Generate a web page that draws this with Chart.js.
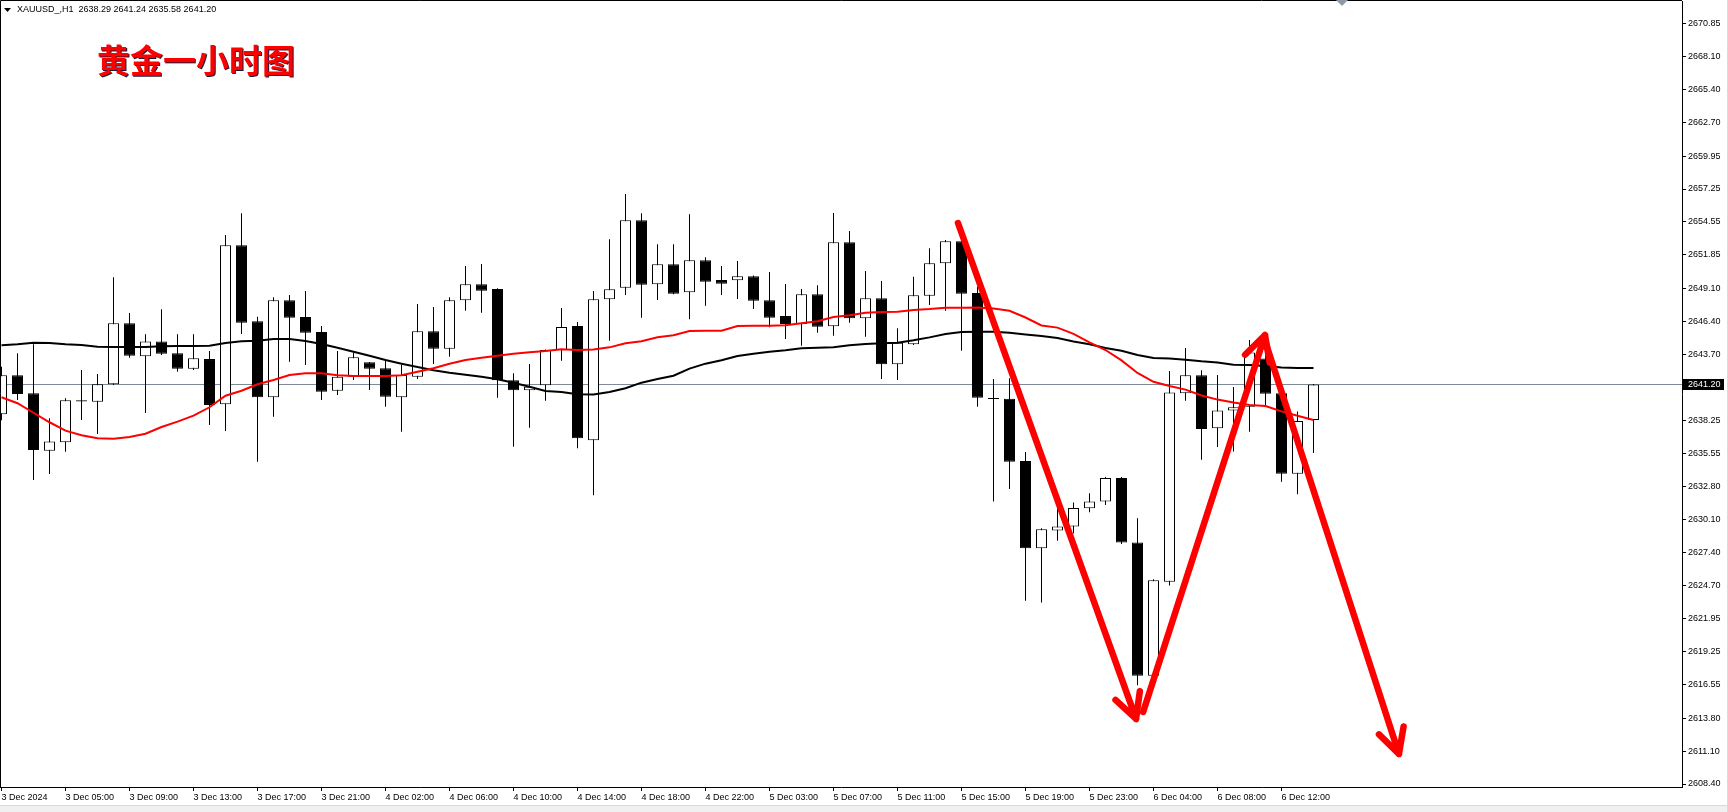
<!DOCTYPE html>
<html>
<head>
<meta charset="utf-8">
<script src="https://cdn.jsdelivr.net/npm/chart.js@4"></script>
<style>
  html, body { margin: 0; padding: 0; background: #fff; }
  canvas { display: block; }
</style>
</head>
<body>
<canvas id="chart" width="1728" height="812"></canvas>
<script>
'use strict'

const symbol = 'XAUUSD_,H1'
const title = '黄金一小时图'

// hourly bars, oldest first
const open = [
  2638.75, 2641.96, 2640.48, 2635.77, 2636.45, 2639.90, 2639.79, 2641.21, 2646.22, 2643.51,
  2644.74, 2643.76, 2642.50, 2643.29, 2639.57, 2652.63, 2646.39, 2640.15, 2648.11, 2646.74,
  2645.51, 2640.69, 2641.84, 2643.02, 2642.53, 2640.15, 2641.84, 2645.57, 2644.14, 2648.11,
  2649.43, 2649.04, 2641.54, 2640.72, 2641.13, 2644.03, 2646.00, 2636.62, 2648.19, 2649.15,
  2654.68, 2649.43, 2651.07, 2648.77, 2651.40, 2649.78, 2649.75, 2650.08, 2648.11, 2646.82,
  2646.17, 2648.60, 2645.98, 2652.87, 2646.63, 2648.28, 2642.86, 2644.50, 2648.49, 2651.15,
  2652.96, 2648.71, 2640.10, 2640.02, 2634.91, 2627.76, 2629.22, 2629.55, 2631.04, 2631.60,
  2633.53, 2628.23, 2617.29, 2625.00, 2640.49, 2641.95, 2637.61, 2639.07, 2639.37, 2643.33,
  2640.49, 2633.88, 2638.29
]
const high = [
  2642.66, 2643.76, 2644.50, 2638.42, 2640.07, 2642.39, 2642.06, 2650.00, 2647.07, 2645.32,
  2647.37, 2645.32, 2645.32, 2643.95, 2653.47, 2655.25, 2646.77, 2648.36, 2648.55, 2648.88,
  2646.00, 2643.95, 2643.81, 2643.05, 2643.21, 2642.80, 2647.81, 2647.56, 2648.36, 2650.93,
  2651.09, 2649.10, 2642.12, 2642.88, 2644.08, 2647.48, 2646.33, 2648.88, 2653.12, 2656.84,
  2655.25, 2652.71, 2652.71, 2655.17, 2651.64, 2650.93, 2651.34, 2650.15, 2650.44, 2649.45,
  2649.04, 2649.34, 2655.28, 2653.80, 2650.52, 2649.70, 2645.81, 2650.05, 2652.38, 2653.06,
  2653.05, 2649.23, 2641.65, 2641.72, 2635.65, 2629.40, 2631.16, 2631.51, 2632.28, 2633.60,
  2633.60, 2630.22, 2625.21, 2642.30, 2644.20, 2642.36, 2641.98, 2640.99, 2644.85, 2645.23,
  2640.55, 2638.99, 2641.24
]
const low = [
  2638.26, 2639.93, 2633.36, 2633.85, 2635.68, 2638.29, 2637.14, 2641.15, 2643.40, 2638.86,
  2643.62, 2642.25, 2642.39, 2637.87, 2637.38, 2645.35, 2634.86, 2638.56, 2643.07, 2642.80,
  2639.93, 2640.34, 2641.57, 2640.75, 2639.38, 2637.33, 2641.65, 2642.88, 2643.48, 2647.26,
  2647.10, 2640.12, 2636.09, 2637.65, 2639.87, 2643.15, 2635.96, 2632.10, 2644.80, 2648.55,
  2646.69, 2648.14, 2648.60, 2646.55, 2647.67, 2648.55, 2648.22, 2647.40, 2645.89, 2644.94,
  2644.39, 2645.45, 2645.21, 2646.27, 2645.12, 2641.65, 2641.57, 2644.45, 2647.73, 2647.26,
  2643.97, 2639.38, 2631.60, 2632.63, 2623.45, 2623.30, 2628.38, 2628.96, 2630.72, 2631.31,
  2628.10, 2616.50, 2616.64, 2624.70, 2639.87, 2635.03, 2636.06, 2635.70, 2637.32, 2639.52,
  2633.21, 2632.19, 2635.58
]
const close = [
  2641.96, 2640.42, 2635.82, 2636.53, 2639.90, 2639.80, 2641.21, 2646.22, 2643.57, 2644.74,
  2643.73, 2642.50, 2643.35, 2639.52, 2652.63, 2646.27, 2640.15, 2648.11, 2646.69, 2645.45,
  2640.61, 2641.84, 2643.43, 2642.50, 2640.20, 2641.98, 2645.57, 2644.14, 2648.11, 2649.43,
  2648.90, 2641.54, 2640.72, 2641.02, 2644.03, 2645.92, 2636.78, 2648.19, 2649.01, 2654.68,
  2649.39, 2651.07, 2648.66, 2651.40, 2649.64, 2649.48, 2650.08, 2648.08, 2646.69, 2646.17,
  2648.60, 2645.95, 2652.87, 2646.63, 2648.28, 2642.86, 2644.63, 2648.52, 2651.15, 2652.96,
  2648.66, 2640.12, 2640.00, 2634.85, 2627.76, 2629.31, 2629.55, 2631.07, 2631.60, 2633.53,
  2628.23, 2617.29, 2625.12, 2640.54, 2641.95, 2637.55, 2639.07, 2639.34, 2643.83, 2640.45,
  2633.88, 2638.20, 2641.20
]

// moving averages, one value per bar
const maFast = [
  2640.15, 2639.66, 2638.88, 2638.10, 2637.41, 2637.03, 2636.78, 2636.75, 2636.89, 2637.16,
  2637.71, 2638.15, 2638.64, 2639.33, 2640.28, 2640.69, 2641.22, 2641.57, 2641.98, 2642.12,
  2642.12, 2641.96, 2641.90, 2641.90, 2641.90, 2641.96, 2642.25, 2642.53, 2642.91, 2643.21,
  2643.40, 2643.56, 2643.73, 2643.84, 2643.95, 2644.09, 2644.03, 2644.07, 2644.25, 2644.58,
  2644.75, 2645.07, 2645.24, 2645.59, 2645.62, 2645.62, 2646.00, 2646.03, 2646.03, 2646.06,
  2646.22, 2646.39, 2646.74, 2646.88, 2647.09, 2647.15, 2647.18, 2647.32, 2647.40, 2647.51,
  2647.51, 2647.52, 2647.43, 2647.25, 2646.70, 2646.05, 2645.87, 2645.36, 2644.65, 2644.03,
  2643.18, 2642.15, 2641.42, 2641.07, 2640.78, 2640.30, 2639.96, 2639.72, 2639.52, 2639.43,
  2638.99, 2638.64, 2638.29
]
const maSlow = [
  2644.42, 2644.50, 2644.63, 2644.61, 2644.50, 2644.44, 2644.30, 2644.28, 2644.28, 2644.28,
  2644.34, 2644.36, 2644.36, 2644.39, 2644.61, 2644.75, 2644.80, 2644.94, 2644.94, 2644.77,
  2644.52, 2644.22, 2643.89, 2643.56, 2643.21, 2642.91, 2642.64, 2642.37, 2642.17, 2642.00,
  2641.84, 2641.63, 2641.35, 2641.02, 2640.67, 2640.58, 2640.40, 2640.38, 2640.58, 2640.89,
  2641.35, 2641.65, 2641.92, 2642.50, 2642.91, 2643.19, 2643.54, 2643.73, 2643.89, 2644.01,
  2644.17, 2644.22, 2644.25, 2644.42, 2644.52, 2644.58, 2644.63, 2644.83, 2645.07, 2645.35,
  2645.51, 2645.53, 2645.53, 2645.44, 2645.30, 2645.18, 2645.02, 2644.73, 2644.50, 2644.20,
  2643.97, 2643.62, 2643.38, 2643.33, 2643.24, 2643.10, 2643.01, 2642.83, 2642.80, 2642.72,
  2642.60, 2642.56, 2642.56
]

const timeLabels = [
  '3 Dec 2024', '3 Dec 05:00', '3 Dec 09:00', '3 Dec 13:00', '3 Dec 17:00', '3 Dec 21:00',
  '4 Dec 02:00', '4 Dec 06:00', '4 Dec 10:00', '4 Dec 14:00', '4 Dec 18:00', '4 Dec 22:00',
  '5 Dec 03:00', '5 Dec 07:00', '5 Dec 11:00', '5 Dec 15:00', '5 Dec 19:00', '5 Dec 23:00',
  '6 Dec 04:00', '6 Dec 08:00', '6 Dec 12:00'
]
const timeLabelBars = [0, 4, 8, 12, 16, 20, 24, 28, 32, 36, 40, 44, 48, 52, 56, 60, 64, 68, 72, 76, 80]

const priceTicks = [
  2608.40, 2611.10, 2613.80, 2616.55, 2619.25, 2621.95, 2624.70, 2627.40, 2630.10, 2632.80,
  2635.55, 2638.25, 2643.70, 2646.40, 2649.10, 2651.85, 2654.55, 2657.25, 2659.95, 2662.70,
  2665.40, 2668.10, 2670.85
]

// hand drawn zigzag, [bar, price]
const arrowFrom = [[59.78, 2654.46], [71.35, 2614.31], [78.97, 2644.80]]
const arrowTo = [[70.91, 2613.74], [78.97, 2645.26], [87.34, 2610.86]]

const bars = open.map((_, i) => i)
const lastBar = bars.length - 1
const lastPrice = close[lastBar]
const labelAt = Object.fromEntries(timeLabelBars.map((b, k) => [b, timeLabels[k]]))

const font = '"Liberation Sans", Arial, sans-serif'
Chart.defaults.font.family = font
Chart.defaults.font.size = 9
Chart.defaults.color = '#000'

const decor = {
  id: 'decor',

  beforeDraw(chart) {
    const { ctx, width, height } = chart
    ctx.save()
    ctx.fillStyle = '#fff'
    ctx.fillRect(0, 0, width, height)
    ctx.restore()
  },

  beforeDatasetsDraw(chart) {
    const { ctx, chartArea } = chart
    const y = Math.round(chart.scales.y.getPixelForValue(lastPrice)) + 0.5

    ctx.save()
    ctx.strokeStyle = '#7f8a98'
    ctx.lineWidth = 1
    ctx.beginPath()
    ctx.moveTo(chartArea.left, y)
    ctx.lineTo(chartArea.right, y)
    ctx.stroke()
    ctx.restore()
  },

  afterDatasetsDraw(chart) {
    const { ctx } = chart
    const { x: xs, y: ys } = chart.scales
    const at = ([b, p]) => [xs.getPixelForValue(b), ys.getPixelForValue(p)]

    ctx.save()
    ctx.strokeStyle = '#ff0000'
    ctx.lineWidth = 6.5
    ctx.lineCap = 'round'
    ctx.lineJoin = 'round'

    arrowFrom.forEach((from, k) => {
      const [x1, y1] = at(from)
      const [x2, y2] = at(arrowTo[k])
      const a = Math.atan2(y2 - y1, x2 - x1)

      ctx.beginPath()
      ctx.moveTo(x1, y1)
      ctx.lineTo(x2, y2)
      for (const s of [-1, 1]) {
        ctx.moveTo(x2, y2)
        ctx.lineTo(x2 - 28 * Math.cos(a + s * 0.48), y2 - 28 * Math.sin(a + s * 0.48))
      }
      ctx.stroke()
    })
    ctx.restore()
  },

  afterDraw(chart) {
    const { ctx, chartArea, width, height } = chart
    const y = Math.round(chart.scales.y.getPixelForValue(lastPrice))

    ctx.save()

    // window frame
    ctx.strokeStyle = '#000'
    ctx.lineWidth = 1
    ctx.beginPath()
    ctx.moveTo(0.5, chartArea.bottom)
    ctx.lineTo(0.5, 0.5)
    ctx.lineTo(chartArea.right, 0.5)
    ctx.stroke()

    ctx.fillStyle = '#f0f0f0'
    ctx.fillRect(0, height - 6, width, 6)
    ctx.fillStyle = '#dadada'
    ctx.fillRect(0, height - 7, width, 1)
    ctx.fillRect(width - 1, 0, 1, height)

    // chart shift marker
    ctx.fillStyle = '#8c99a8'
    ctx.beginPath()
    ctx.moveTo(1336, 0)
    ctx.lineTo(1348, 0)
    ctx.lineTo(1342, 6)
    ctx.fill()

    // current price tag
    ctx.fillStyle = '#000'
    ctx.fillRect(chartArea.right + 1, y - 5, 41, 11)
    ctx.fillStyle = '#fff'
    ctx.font = '9px ' + font
    ctx.textBaseline = 'middle'
    ctx.fillText(lastPrice.toFixed(2), chartArea.right + 6, y + 0.5)

    // header line
    ctx.fillStyle = '#000'
    ctx.beginPath()
    ctx.moveTo(4, 8)
    ctx.lineTo(11, 8)
    ctx.lineTo(7.5, 12)
    ctx.fill()
    const ohlc = [open, high, low, close].map(s => s[lastBar].toFixed(2)).join(' ')
    ctx.fillText(symbol + '  ' + ohlc, 17, 9.5)

    // title
    ctx.font = 'bold 33px "Noto Sans CJK SC", sans-serif'
    ctx.fillStyle = '#ff0000'
    ctx.shadowColor = 'rgba(0, 0, 40, 0.9)'
    ctx.shadowOffsetX = 1
    ctx.shadowOffsetY = 1
    ctx.fillText(title, 97, 60)

    ctx.restore()
  }
}

new Chart(document.getElementById('chart'), {
  type: 'bar',

  data: {
    datasets: [
      {
        type: 'line',
        label: 'MA fast',
        data: bars.map(i => ({ x: i, y: maFast[i] })),
        borderColor: '#ff0000',
        borderWidth: 2,
        pointRadius: 0,
        tension: 0,
        order: 0
      },
      {
        type: 'line',
        label: 'MA slow',
        data: bars.map(i => ({ x: i, y: maSlow[i] })),
        borderColor: '#000',
        borderWidth: 2,
        pointRadius: 0,
        tension: 0,
        order: 0
      },
      {
        label: 'body',
        data: bars.map(i => ({ x: i, y: [open[i], close[i]] })),
        backgroundColor: bars.map(i => close[i] >= open[i] ? '#fff' : '#000'),
        borderColor: '#000',
        borderWidth: 1,
        borderSkipped: false,
        barThickness: 11,
        grouped: false,
        inflateAmount: 0,
        order: 1
      },
      {
        label: 'wick',
        data: bars.map(i => ({ x: i, y: [low[i], high[i]] })),
        backgroundColor: '#000',
        borderWidth: 0,
        barThickness: 1,
        grouped: false,
        inflateAmount: 0,
        order: 2
      }
    ]
  },

  options: {
    responsive: false,
    animation: false,
    devicePixelRatio: 1,
    layout: { padding: { top: 1, left: 0, right: 0, bottom: 0 } },

    scales: {
      x: {
        type: 'linear',
        bounds: 'data',
        min: -1.5 / 16,
        max: (1682 - 1.5) / 16,
        offset: false,
        grid: {
          offset: false,
          drawOnChartArea: false,
          tickLength: 4,
          color: '#000'
        },
        border: { display: true, color: '#000' },
        ticks: {
          autoSkip: false,
          maxRotation: 0,
          minRotation: 0,
          align: 'start',
          padding: 1,
          callback: v => labelAt[v] ?? ''
        },
        afterBuildTicks: axis => {
          axis.ticks = timeLabelBars.map(value => ({ value }))
        },
        afterFit: axis => {
          axis.height = 25
          axis.paddingLeft = 0
          axis.paddingRight = 0
        }
      },

      y: {
        type: 'linear',
        position: 'right',
        bounds: 'data',
        min: 2608.40 - 3 / 12.18,
        max: 2608.40 - 3 / 12.18 + 786 / 12.18,
        grid: {
          drawOnChartArea: false,
          tickLength: 4,
          color: '#000'
        },
        border: { display: true, color: '#000' },
        ticks: {
          autoSkip: false,
          padding: 2,
          callback: v => v.toFixed(2)
        },
        afterBuildTicks: axis => {
          axis.ticks = priceTicks.map(value => ({ value }))
        },
        afterFit: axis => {
          axis.width = 46
          axis.paddingTop = 0
          axis.paddingBottom = 0
        }
      }
    },

    plugins: {
      legend: { display: false },
      tooltip: { enabled: false }
    }
  },

  plugins: [decor]
})
</script>
</body>
</html>
